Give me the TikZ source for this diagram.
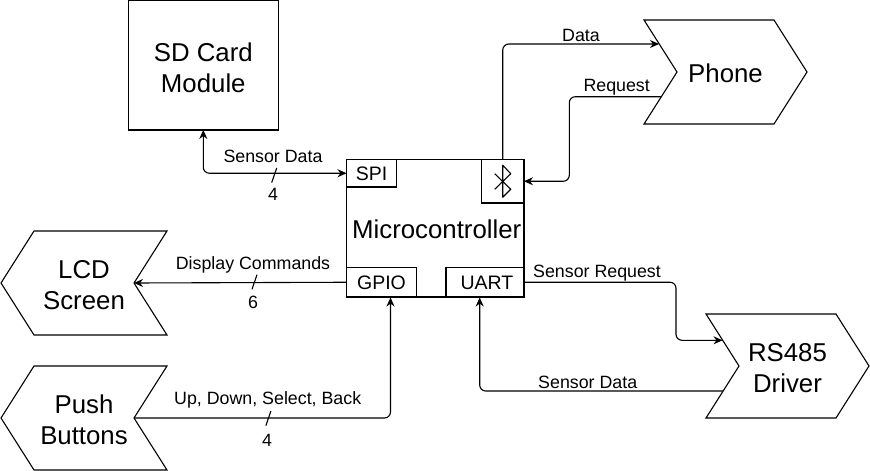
\documentclass[tikz,border=0pt]{standalone}
\usepackage{fontspec}
\setmainfont{Liberation Sans}
\usetikzlibrary{arrows.meta,shapes.symbols,positioning}

\newcommand{\lineone}{\rule{0pt}{23pt}}

\tikzset{
  bigtext/.style={font=\fontsize{25.8}{31}\selectfont, align=center},
  blockbox/.style={draw, bigtext, inner sep=0pt, outer sep=0pt},
  sigright/.style={blockbox, signal, signal to=east, signal from=west, signal pointer angle=115.2,
    minimum width=163, minimum height=104},
  sigleft/.style={blockbox, signal, signal to=west, signal from=east, signal pointer angle=115.2,
    minimum width=166, minimum height=104},
  portbox/.style={draw, inner sep=0pt, outer sep=0pt, minimum height=29.5,
    font=\fontsize{19.5}{22}\selectfont, text height=15, text depth=1},
  wirelabel/.style={anchor=base, inner sep=0pt, font=\fontsize{17.8}{20}\selectfont},
  wire/.style={rounded corners=6, -{Stealth[length=9,width=8]}},
  wiretwo/.style={rounded corners=6, {Stealth[length=9,width=8]}-{Stealth[length=9,width=8]}}
}

\begin{document}
\begin{tikzpicture}[x=1pt, y=-1pt, line width=1.1pt]
\useasboundingbox (0,0) rectangle (870,471);

\node [blockbox, minimum width=150, minimum height=129.5] (sd) at (203.3,65.2) {\lineone SD Card\\Module};
\node [blockbox, minimum width=177.5, minimum height=137.5] (micro) at (435.25,228.25) {\rule{0pt}{21pt}\hspace{3pt}Microcontroller};

\node [portbox, anchor=north west, minimum width=50, minimum height=27.5] (spi) at (micro.north west) {SPI};
\node [portbox, anchor=north east, minimum width=42.5, minimum height=43.5] (bt) at (micro.north east) {};
\node [portbox, anchor=south west, minimum width=70] (gpio) at (micro.south west) {GPIO};
\node [portbox, anchor=south east, minimum width=78] (uart) at (micro.south east) {\hspace{4pt}UART};

\node [sigleft] (lcd) at (84,283) {\lineone LCD\\Screen};
\node [sigleft] (push) at (84,418) {\lineone Push\\Buttons};
\node [sigright] (phone) at (725.5,72) {\rule{0pt}{21pt}Phone};
\node [sigright] (rs) at (787.5,366) {\lineone RS485\\Driver};

\coordinate (phone data) at (659,44);
\coordinate (phone req) at (661,96.7);
\coordinate (req turn) at (569.3,140);
\coordinate (gpio in) at (390.5,297.5);
\coordinate (uart in) at (479.7,297.5);
\coordinate (uart turn) at (676,310);
\coordinate (rs in) at (722.5,340.3);
\coordinate (rs out) at (723,391);

\draw [wiretwo] (sd.south) |- (spi.west);
\draw [wire] (bt.north) |- (phone data);
\draw [wire] (phone req) -| (req turn) |- (bt.east);
\draw [wire] (gpio.west) -- (lcd.east);
\draw [wire] (push.east) -| (gpio in);
\draw [wire] (uart.east) -| (uart turn) |- (rs in);
\draw [wire] (rs out) -| (uart in);

% bus ticks
\foreach \tx/\ty in {274.2/175.3, 254.5/282, 268.4/418.3}
  \draw (\tx-2.5,\ty+7.3) -- (\tx+2.5,\ty-7.3);

% bluetooth mark
\draw [shift={(bt.center)}, line join=round] (-8,-7.5) -- (8,8) -- (0,16) -- (0,-16) -- (8,-7.5) -- (-8,8);

\node [wirelabel] (sd label) at (273,162) {Sensor Data};
\node [wirelabel] (sd count) at (273,200) {4};
\node [wirelabel] (data label) at (581,41.7) {Data};
\node [wirelabel] (req label) at (616.7,91) {Request};
\node [wirelabel] (lcd label) at (253,269) {Display Commands};
\node [wirelabel] (lcd count) at (253,308) {6};
\node [wirelabel] (push label) at (267.7,404) {Up, Down, Select, Back};
\node [wirelabel] (push count) at (267,446.7) {4};
\node [wirelabel] (uart label) at (597,277) {Sensor Request};
\node [wirelabel] (rs label) at (587.7,388) {Sensor Data};
\end{tikzpicture}
\end{document}
